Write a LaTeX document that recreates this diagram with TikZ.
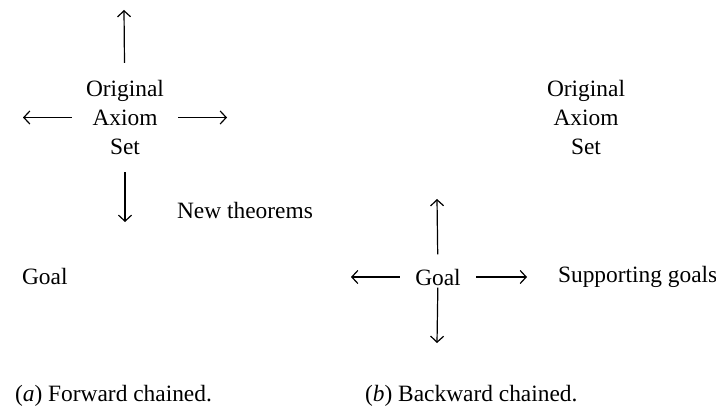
\documentclass[tikz,border=0pt]{standalone}
\usepackage{fontspec}
\setmainfont{Liberation Serif}
\usetikzlibrary{arrows.meta}

\begin{document}
\begin{tikzpicture}[x=0.5pt,y=-0.5pt,
  every node/.style={font=\fontsize{11.7}{14.5}\selectfont},
  axset/.style={align=center,inner xsep=7pt,inner ysep=8.5pt},
  goal/.style={inner xsep=7.5pt,inner ysep=1pt},
  arr/.style={-{Straight Barb[length=3pt,width=6.5pt]},line width=0.6pt}]
\useasboundingbox (0,0) rectangle (716,406);

% (a) forward chaining from the axioms
\node[axset] (axA) at (125,117.5) {Original\\Axiom\\Set};
\node[anchor=base west] (newA) at (170,219) {New theorems};
\node[anchor=base west] (goalA) at (15,284) {Goal};
\coordinate (axAn) at (124,10);
\coordinate (axAs) at (125,222);
\coordinate (axAw) at (23,117.5);
\coordinate (axAe) at (227,117.5);
\draw[arr] (axA) -- (axAn);
\draw[arr] (axA) -- (axAs);
\draw[arr] (axA) -- (axAw);
\draw[arr] (axA) -- (axAe);

% (b) backward chaining from the goal
\node[axset] (axB) at (586,117.5) {Original\\Axiom\\Set};
\node[goal] (goalB) at (438,277) {Goal};
\node[anchor=base west] (supB) at (551,282) {Supporting goals};
\coordinate (goalBn) at (437,199);
\coordinate (goalBs) at (437,343);
\coordinate (goalBw) at (351,277);
\coordinate (goalBe) at (527,277);
\draw[arr,shorten <=6pt] (goalB) -- (goalBn);
\draw[arr] (goalB) -- (goalBs);
\draw[arr] (goalB) -- (goalBw);
\draw[arr] (goalB) -- (goalBe);

% captions
\node[anchor=base west] (capA) at (8,401) {(\textit{a}) Forward chained.};
\node[anchor=base west] (capB) at (358,401) {(\textit{b}) Backward chained.};
\end{tikzpicture}
\end{document}
